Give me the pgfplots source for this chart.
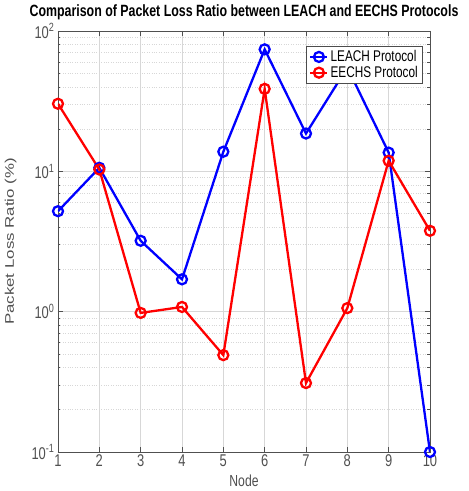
\documentclass[border=0pt]{standalone}
\usepackage{pgfplots}
\pgfplotsset{compat=1.18}
\usepackage{fontspec}
\setmainfont{Liberation Sans}[FakeStretch=0.76]
\newfontfamily\plainsans{Liberation Sans}

\definecolor{tickgray}{RGB}{80,80,80}
\definecolor{gridgray}{RGB}{215,215,215}

\begin{document}
\begin{tikzpicture}
\useasboundingbox (-58pt,-39pt) rectangle (411pt,452pt);
\begin{axis}[
  at={(0,0)}, anchor=south west,
  scale only axis,
  width=372pt, height=421pt,
  ymode=log,
  xmin=1, xmax=10, ymin=0.1, ymax=100,
  xtick={1,...,10},
  xticklabels={1,2,3,4,5,6,7,8,9,10},
  ytick={0.1,1,10,100},
  yticklabels={10\textsuperscript{-1},10\textsuperscript{0},10\textsuperscript{1},10\textsuperscript{2}},
  tick align=inside,
  tick style={tickgray, line width=0.6pt},
  major tick length=5pt,
  minor tick length=2.5pt,
  axis line style={tickgray, line width=0.8pt},
  grid=both,
  major grid style={gridgray, line width=0.6pt},
  minor grid style={gridgray, dotted, line width=0.6pt},
  ticklabel style={font=\fontsize{17}{17}\selectfont, text=tickgray},
  xticklabel style={yshift=1pt},
  title={\bfseries Comparison of Packet Loss Ratio between LEACH and EECHS Protocols},
  title style={font=\fontsize{16.3}{16}\selectfont, yshift=1.5pt},
  xlabel={Node},
  ylabel={\scalebox{1.35}[1]{\plainsans\fontsize{12.5}{12.5}\selectfont Packet Loss Ratio (\%)}},
  xlabel style={font=\fontsize{16}{16}\selectfont, text=tickgray, yshift=-1pt},
  ylabel style={text=tickgray, at={(axis description cs:-0.102,0.5)}},
  legend style={at={(0.98,0.965)}, anchor=north east, font=\fontsize{15.5}{15.5}\selectfont,
    draw=black!70, line width=0.7pt, row sep=-1pt, inner sep=2.5pt},
  legend cell align=left,
]
\addplot[blue, line width=2.3pt, mark=o, mark size=5pt, mark options={line width=2.3pt}] coordinates {
  (1,5.2) (2,10.6) (3,3.2) (4,1.7) (5,13.8) (6,74) (7,18.6) (8,55) (9,13.6) (10,0.1)
};
\addplot[red, line width=2.3pt, mark=o, mark size=5pt, mark options={line width=2.3pt}] coordinates {
  (1,30.3) (2,10.3) (3,0.98) (4,1.08) (5,0.49) (6,38.7) (7,0.31) (8,1.06) (9,11.9) (10,3.77)
};
\legend{LEACH Protocol, EECHS Protocol}
\end{axis}
\end{tikzpicture}
\end{document}
